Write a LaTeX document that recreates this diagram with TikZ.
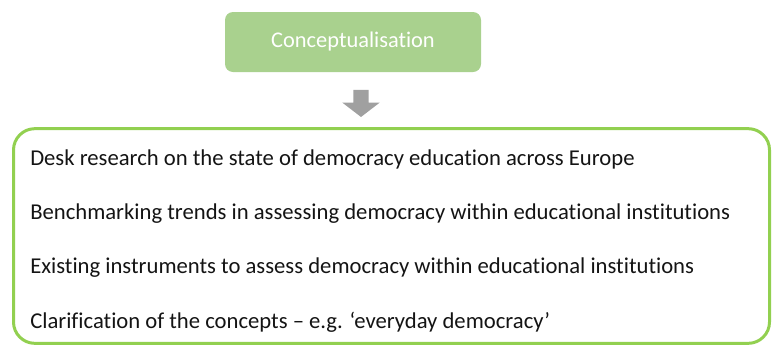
\documentclass[tikz,border=0pt]{standalone}
\usepackage{fontspec}
\setmainfont{Carlito}[Ligatures=CommonOff]
\usetikzlibrary{shapes.arrows}
\definecolor{phasegreen}{RGB}{169,209,142}
\definecolor{panelgreen}{RGB}{146,208,80}
\definecolor{arrowgray}{RGB}{160,160,160}
\definecolor{itemtext}{RGB}{20,20,20}
\tikzstyle{phase} = [fill=phasegreen, text=white, rounded corners=6pt, minimum width=192pt, minimum height=45pt, font=\fontsize{16.8}{20}\selectfont]
\tikzstyle{panel} = [draw=panelgreen, line width=2.25pt, rounded corners=16pt, minimum width=567pt, minimum height=161pt]
\tikzstyle{item} = [anchor=base west, inner sep=0pt, text=itemtext, font=\fontsize{17}{20}\selectfont]
\tikzstyle{blockarrow} = [single arrow, fill=arrowgray, rotate=-90, minimum height=20.25pt, inner xsep=0pt, inner ysep=5.6pt, single arrow head extend=8.25pt, single arrow tip angle=105]

\begin{document}
\begin{tikzpicture}[x=0.75pt, y=-0.75pt]
				\useasboundingbox (0,0) rectangle (773,347);
				\node (concept)[phase] at (353,42) {Conceptualisation};
				\node (down)[blockarrow] at (361,100.5) {};
				\node (tasks)[panel] at (391.5,236) {};
				
				\node (desk)[item] at (30,165) {Desk research on the state of democracy education across Europe};
				\node (bench)[item] at (30,219) {Benchmarking trends in assessing democracy within educational institutions};
				\node (instr)[item] at (30,273) {Existing instruments to assess democracy within educational institutions};
				\node (clarif)[item] at (30,328) {Clarification of the concepts -- e.g. ‘everyday democracy’};
			\end{tikzpicture}
\end{document}
